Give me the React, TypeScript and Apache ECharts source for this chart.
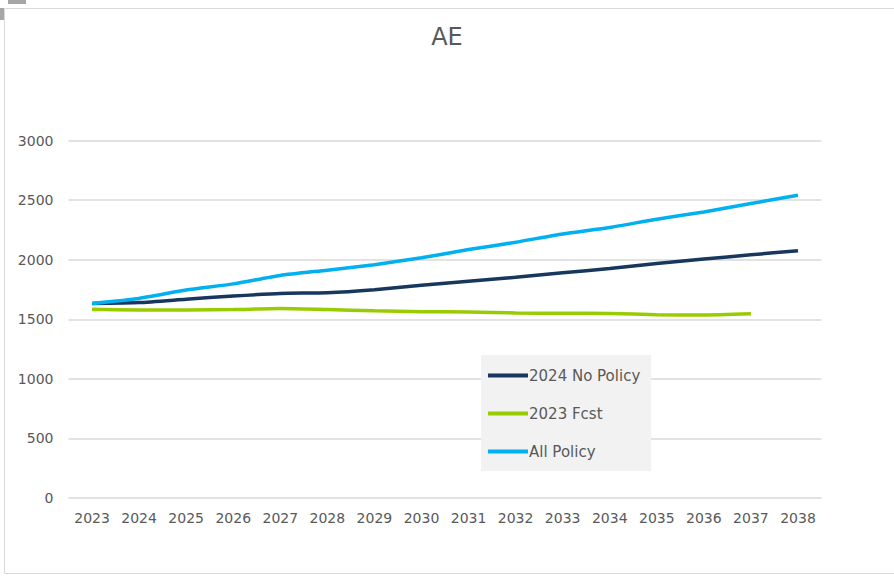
import React, { useEffect, useRef } from "react";
import * as echarts from "echarts";

const years = ["2023","2024","2025","2026","2027","2028","2029","2030","2031","2032","2033","2034","2035","2036","2037","2038"];
const noPolicy2024 = [1633, 1640, 1668, 1695, 1717, 1723, 1748, 1785, 1818, 1852, 1890, 1925, 1968, 2005, 2041, 2075];
const fcst2023 = [1583, 1578, 1578, 1581, 1590, 1581, 1571, 1563, 1561, 1553, 1550, 1549, 1538, 1536, 1546, null];
const allPolicy = [1633, 1675, 1745, 1797, 1868, 1912, 1958, 2016, 2085, 2146, 2216, 2270, 2340, 2400, 2472, 2540];
const yTicks = { min: 0, max: 3000, interval: 500 };

const FONT = "'DejaVu Sans', sans-serif";
const GRAY = "#595959";

export default function App() {
  const ref = useRef<HTMLDivElement>(null);
  useEffect(() => {
    if (!ref.current) return;
    const chart = echarts.init(ref.current, undefined, { renderer: "svg" });
    chart.setOption({
      animation: false,
      backgroundColor: "#ffffff",
      title: {
        text: "AE",
        left: "center",
        top: 20,
        textStyle: { fontFamily: FONT, fontSize: 24, fontWeight: "normal", color: GRAY },
      },
      graphic: [
        { type: "rect", shape: { x: 4.5, y: 8.5, width: 900, height: 565 }, style: { fill: "none", stroke: "#D9D9D9", lineWidth: 1 } },
        { type: "rect", shape: { x: 8, y: 0, width: 18, height: 4 }, style: { fill: "#A6A6A6" } },
        { type: "rect", shape: { x: 0, y: 8, width: 4, height: 12 }, style: { fill: "#A6A6A6" } },
      ],
      legend: {
        orient: "vertical",
        left: 481,
        top: 355,
        backgroundColor: "#F2F2F2",
        padding: [13, 11, 12, 7],
        itemWidth: 40,
        itemHeight: 4,
        itemGap: 23,
        icon: "rect",
        textStyle: { fontFamily: FONT, fontSize: 15, color: GRAY, padding: [0, 0, 0, -4] },
        data: ["2024 No Policy", "2023 Fcst", "All Policy"],
      },
      grid: { left: 68.5, right: 72.5, top: 140.5, bottom: 78 },
      xAxis: {
        type: "category",
        data: years,
        boundaryGap: true,
        axisLine: { show: false },
        axisTick: { show: false },
        axisLabel: { fontFamily: FONT, fontSize: 14, color: GRAY, margin: 13 },
      },
      yAxis: {
        type: "value",
        min: yTicks.min,
        max: yTicks.max,
        interval: yTicks.interval,
        axisLine: { show: false },
        axisTick: { show: false },
        axisLabel: { fontFamily: FONT, fontSize: 14, color: GRAY, margin: 15, formatter: (v: number) => String(v) },
        splitLine: { lineStyle: { color: "#D9D9D9", width: 1.5 } },
      },
      series: [
        { name: "2024 No Policy", type: "line", data: noPolicy2024, symbol: "none", smooth: 0.2, lineStyle: { width: 3.5, color: "#17375E" }, itemStyle: { color: "#17375E" } },
        { name: "2023 Fcst", type: "line", data: fcst2023, symbol: "none", smooth: 0.2, lineStyle: { width: 3.5, color: "#99CC00" }, itemStyle: { color: "#99CC00" } },
        { name: "All Policy", type: "line", data: allPolicy, symbol: "none", smooth: 0.2, lineStyle: { width: 3.5, color: "#00B0F0" }, itemStyle: { color: "#00B0F0" } },
      ],
    });
    return () => chart.dispose();
  }, []);
  return <div ref={ref} style={{ position: "absolute", left: 0, top: 0, width: 894, height: 576 }} />;
}
